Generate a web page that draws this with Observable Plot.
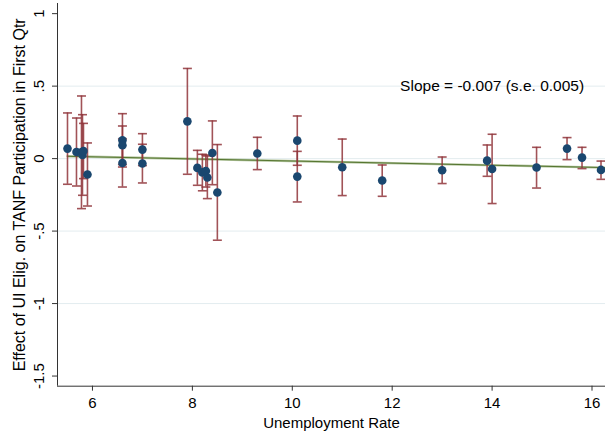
<!DOCTYPE html>
<html>
<head>
<meta charset="utf-8">
<script src="https://cdn.jsdelivr.net/npm/d3@7"></script>
<script src="https://cdn.jsdelivr.net/npm/@observablehq/plot@0.6"></script>
<style>
  html, body { margin: 0; padding: 0; background: #fff; }
  #chart { width: 605px; height: 431px; }
</style>
</head>
<body>
<div id="chart"></div>
<script>
// Data
const unemp  = [5.50, 5.68, 5.78, 5.80, 5.82, 5.90, 6.60, 6.60, 6.60, 7.00, 7.00, 7.90, 8.10, 8.20, 8.27, 8.30, 8.40, 8.50, 9.30, 10.10, 10.10, 11.00, 11.80, 13.00, 13.90, 14.00, 14.89, 15.50, 15.80, 16.18];
const effect = [0.069, 0.046, 0.044, 0.025, 0.053, -0.110, 0.126, 0.092, -0.030, 0.062, -0.034, 0.257, -0.064, -0.095, -0.085, -0.130, 0.039, -0.234, 0.035, 0.124, -0.124, -0.060, -0.151, -0.080, -0.014, -0.072, -0.061, 0.069, 0.007, -0.078];
const ciLow  = [-0.177, -0.189, -0.345, -0.253, -0.138, -0.327, -0.058, -0.041, -0.196, -0.048, -0.168, -0.108, -0.184, -0.222, -0.196, -0.276, -0.180, -0.563, -0.076, -0.046, -0.299, -0.255, -0.260, -0.172, -0.122, -0.310, -0.203, -0.007, -0.069, -0.143];
const ciHigh = [0.315, 0.280, 0.432, 0.303, 0.243, 0.108, 0.310, 0.225, 0.136, 0.172, 0.099, 0.622, 0.057, 0.030, 0.025, 0.018, 0.260, 0.097, 0.147, 0.294, 0.050, 0.135, -0.044, 0.011, 0.094, 0.168, 0.078, 0.145, 0.078, -0.017];

// Fitted line end points
const fitX = [5.50, 16.27];
const fitY = [0.016, -0.062];

const xTicks = [6, 8, 10, 12, 14, 16];
const yTicks = [1, 0.5, 0, -0.5, -1, -1.5];
const yTickLabels = ["1", ".5", "0", "-.5", "-1", "-1.5"];
const yGrid = [0.5, 0, -0.5, -1];

const xDomain = [5.30, 16.27];
const yDomain = [-1.57, 1.07];

const slopeText = "Slope = -0.007 (s.e. 0.005)";
const slopePos = {x: 14, y: 0.5};
const xTitle = "Unemployment Rate";
const yTitle = "Effect of UI Elig. on TANF Participation in First Qtr";

const pts = unemp.map((u, i) => ({x: u, y: effect[i], lo: ciLow[i], hi: ciHigh[i]}));
const caps = pts.flatMap(d => [{x: d.x, y: d.lo}, {x: d.x, y: d.hi}]);
const fit = fitX.map((x, i) => ({x, y: fitY[i]}));

const capSymbol = {
  draw(context, size) {
    const w = Math.sqrt(size / Math.PI);
    context.moveTo(-w, 0);
    context.lineTo(w, 0);
  }
};

const font = "'Liberation Sans', Arial, Helvetica, sans-serif";
const maroon = "#90353b";
const navy = "#1a476f";
const green = "#55752f";

const chart = Plot.plot({
  width: 605,
  height: 431,
  marginLeft: 57,
  marginRight: 0,
  marginTop: 3,
  marginBottom: 45.3,
  style: {fontFamily: font, fontSize: "15px", color: "#000", background: "#fff"},
  x: {domain: xDomain},
  y: {domain: yDomain},
  marks: [
    Plot.gridY(yGrid, {stroke: "#e3ecef", strokeOpacity: 1, strokeWidth: 1}),
    // fitted line (two-tone)
    Plot.line(fit, {x: "x", y: "y", stroke: "#b4c6a0", strokeWidth: 2.4}),
    Plot.line(fit, {x: "x", y: "y", stroke: green, strokeWidth: 1}),
    // confidence intervals
    Plot.ruleX(pts, {x: "x", y1: "lo", y2: "hi", stroke: maroon, strokeWidth: 1.6, strokeOpacity: 0.85}),
    Plot.dot(caps, {x: "x", y: "y", symbol: capSymbol, r: 4.5, stroke: maroon, strokeWidth: 1.6, strokeOpacity: 0.85}),
    // estimates
    Plot.dot(pts, {x: "x", y: "y", r: 4.3, fill: navy, stroke: null}),
    // axes
    Plot.ruleX([xDomain[0]], {stroke: "#333", strokeWidth: 1}),
    Plot.ruleY([yDomain[0]], {stroke: "#333", strokeWidth: 1}),
    Plot.axisX({ticks: xTicks, tickSize: 5, tickPadding: 6, fontSize: 15, stroke: "#333", fill: "#000", label: null}),
    Plot.axisY({ticks: yTicks, tickSize: 5, tickFormat: () => "", stroke: "#333", label: null}),
    Plot.text(yTicks, {y: d => d, frameAnchor: "left", dx: -13.7, rotate: -90, text: (d, i) => yTickLabels[i], lineAnchor: "bottom", textAnchor: "middle", fontSize: 15, fill: "#000"}),
    // titles
    Plot.text([yTitle], {frameAnchor: "left", dx: -33, rotate: -90, text: d => d, lineAnchor: "bottom", textAnchor: "middle", fontSize: 16, fill: "#000"}),
    Plot.text([xTitle], {frameAnchor: "bottom", dy: 41.8, text: d => d, lineAnchor: "bottom", textAnchor: "middle", fontSize: 15, fill: "#000"}),
    // annotation
    Plot.text([slopeText], {x: () => slopePos.x, y: () => slopePos.y, text: d => d, textAnchor: "middle", lineAnchor: "middle", fontSize: 15.5, fill: "#000"})
  ]
});
document.getElementById("chart").appendChild(chart);
</script>
</body>
</html>
